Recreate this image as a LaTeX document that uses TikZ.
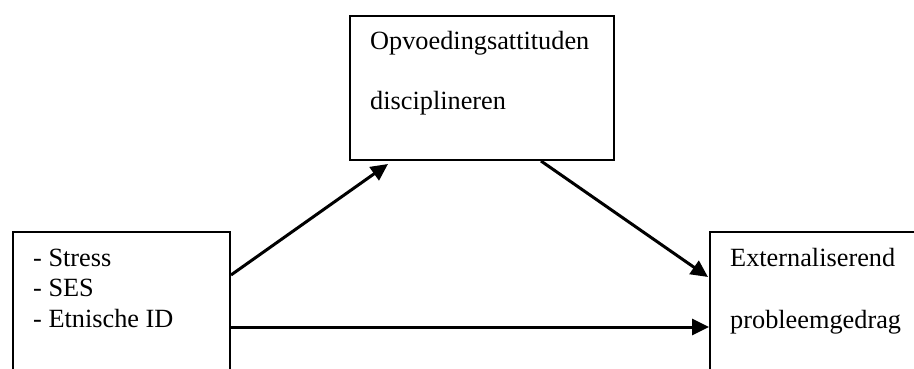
\documentclass[tikz,border=0pt]{standalone}
\usepackage{fontspec}
\setmainfont{Liberation Serif}
\usetikzlibrary{arrows.meta,calc}
\begin{document}
\begin{tikzpicture}[x=1pt,y=-1pt,
  box/.style={draw=black,line width=2pt,anchor=north west,inner sep=0pt},
  lbl/.style={anchor=base west,inner sep=0pt,font=\fontsize{26.3}{30}\selectfont},
  arr/.style={draw=black,line width=3pt,-{Triangle[length=17pt,width=16pt]}}]
\useasboundingbox (0,0) rectangle (914,369);
\clip (0,0) rectangle (914,369);
\fill[white] (0,0) rectangle (914,369);
% boxes
\node[box,minimum width=217pt,minimum height=180pt] (L) at (12,231) {};
\node[box,minimum width=264pt,minimum height=144pt] (T) at (349,15) {};
\node[box,minimum width=240pt,minimum height=180pt] (R) at (709,231) {};
% texts
\node[lbl] (s1) at (33,266) {- Stress};
\node[lbl] (s2) at (33,296) {- SES};
\node[lbl] (s3) at (33,327) {- Etnische ID};
\node[lbl] (t1) at (370,50) {Opvoedingsattituden};
\node[lbl] (t2) at (370,110) {disciplineren};
\node[lbl] (r1) at (730,266) {Externaliserend};
\node[lbl] (r2) at (730,328) {probleemgedrag};
% connectors
\coordinate (a1s) at ($(L.north east)+(0,44)$);
\coordinate (a1e) at ($(T.south west)+(39,3)$);
\coordinate (a2s) at ($(T.south west)+(192,0)$);
\coordinate (a2e) at ($(R.north west)+(-1,46)$);
\coordinate (a3s) at ($(L.north east)+(0,96)$);
\coordinate (a3e) at ($(R.north west)+(0,96)$);
\draw[arr] (a1s) -- (a1e);
\draw[arr] (a2s) -- (a2e);
\draw[arr] (a3s) -- (a3e);
\end{tikzpicture}
\end{document}
